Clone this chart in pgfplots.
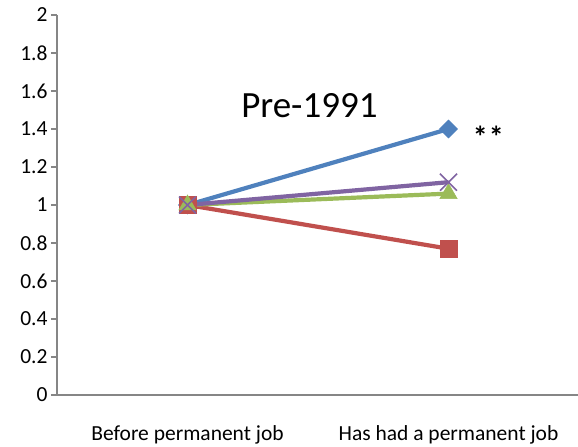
\documentclass[border=0pt]{standalone}
\usepackage{fontspec}
\setmainfont{Carlito}
\usepackage{pgfplots}
\pgfplotsset{compat=1.18}
\definecolor{xblue}{HTML}{4F81BD}
\definecolor{xred}{HTML}{C0504D}
\definecolor{xgreen}{HTML}{9BBB59}
\definecolor{xpurple}{HTML}{8064A2}
\definecolor{axgray}{HTML}{868686}
\begin{document}
\begin{tikzpicture}
\useasboundingbox (-57bp,-52bp) rectangle (521bp,395bp);
\begin{axis}[
  at={(0,0)}, anchor=south west,
  scale only axis, width=522bp, height=380bp,
  xmin=-0.5, xmax=1.5, ymin=0, ymax=2,
  ytick={0,0.2,...,2.0},
  yticklabel style={/pgf/number format/fixed,/pgf/number format/precision=1},
  /pgf/number format/assume math mode=true,
  xtick={0,1},
  xticklabels={Before permanent job, Has had a permanent job},
  extra x ticks={-0.5,0.5,1.5},
  extra x tick labels={},
  extra x tick style={major tick length=6bp, tick style={draw=axgray, line width=1.2pt}},
  axis x line*=bottom, axis y line*=left,
  axis line style={draw=axgray, line width=1.2pt, -},
  x axis line style={-},
  y axis line style={-},
  tick align=outside,
  major tick length=6bp,
  xtick style={draw=none},
  ytick style={draw=axgray, line width=1.2pt},
  ticklabel style={font=\fontsize{21.5bp}{24bp}\selectfont, text=black},
  xticklabel style={yshift=-21bp},
  clip=false,
]
\addplot[xblue, line width=4.2bp, mark=square*, mark size=6.4bp, mark options={rotate=45, line width=0.5bp}] coordinates {(0,1) (1,1.4)};
\addplot[xred, line width=4.2bp, mark=square*, mark size=8.5bp, mark options={line width=0.5bp}] coordinates {(0,1) (1,0.77)};
\addplot[xgreen, line width=4.2bp, mark=triangle*, mark size=10bp, mark options={line width=0.5bp}] coordinates {(0,1) (1,1.06)};
\addplot[xpurple, line width=4.2bp, mark=x, mark size=12bp, mark options={line width=1.5bp}] coordinates {(0,1) (1,1.12)};
\node[font=\fontsize{30bp}{32bp}\selectfont\bfseries, anchor=base] at (axis cs:1.153,1.30) {*\kern1bp*};
\node[font=\fontsize{37bp}{42bp}\selectfont, anchor=base] at (axis cs:0.467,1.463) {Pre-1991};
\end{axis}
\end{tikzpicture}
\end{document}
